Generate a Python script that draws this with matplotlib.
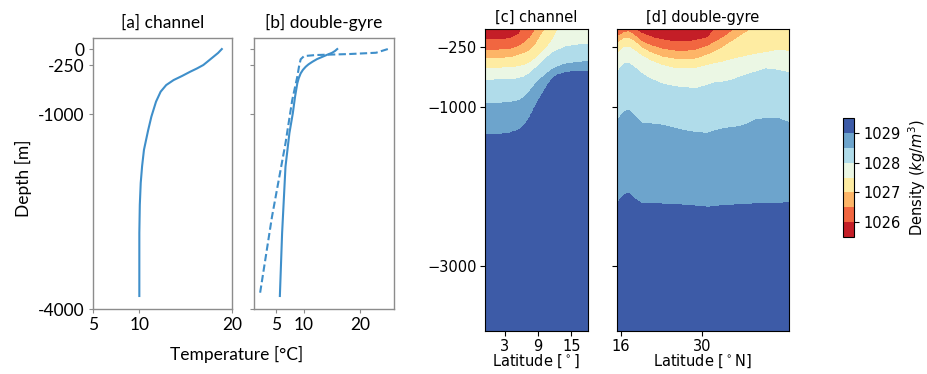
import numpy as np
import matplotlib
matplotlib.use("Agg")
import matplotlib.pyplot as plt

# ---------------- temperature profiles ----------------
# [a] channel: restoring temperature profile
depth_a = [0, -60, -130, -200, -246, -300, -348, -415, -477, -554, -656, -810, -1040, -1250,
           -1550, -1800, -2060, -2400, -2830, -3300, -3800]
temp_a = [18.9, 18.5, 17.9, 17.3, 16.9, 16.2, 15.5, 14.6, 13.7, 12.9, 12.3, 11.8, 11.3, 10.95,
          10.5, 10.3, 10.15, 10.05, 10.0, 10.0, 10.0]

# [b] double-gyre: model profile (solid) and reference profile (dashed)
depth_b = [0, -30, -57, -85, -118, -155, -195, -235, -272, -320, -374, -450, -528, -734,
           -990, -1292, -1810, -2830, -3800]
temp_b = [15.9, 15.5, 15.0, 14.2, 13.3, 12.3, 11.5, 10.8, 10.3, 9.8, 9.4, 9.05, 8.8, 8.4,
          8.0, 7.4, 6.7, 6.1, 5.7]
depth_b_ref = [0, -57, -77, -92, -108, -158, -272, -426, -785, -1450, -2580, -3800]
temp_b_ref = [24.9, 22.8, 18.0, 12.1, 10.0, 9.4, 9.1, 8.8, 7.9, 6.7, 4.3, 2.1]

# ---------------- density sections ----------------
rho_levels = [1026.0, 1026.5, 1027.0, 1027.5, 1028.0, 1028.5, 1029.0]
cbar_ticks = [1026, 1027, 1028, 1029]

# [c] channel: isopycnal depths (m) at each latitude (positive = above sea surface)
lat_c = [-0.6, 2, 4, 5.5, 6.5, 7.5, 8.5, 9.5, 10.5, 11.5, 12.5, 14, 16, 18]
c_1026 = [-165, -162, -148, -95, 40, 120, 200, 280, 360, 440, 520, 640, 800, 960]
c_1026_5 = [-288, -288, -278, -245, -200, -140, -40, 60, 140, 220, 300, 420, 580, 740]
c_1027 = [-392, -392, -385, -355, -330, -300, -225, -110, 0, 80, 160, 280, 440, 600]
c_1027_5 = [-517, -515, -508, -498, -480, -450, -400, -330, -266, -175, -40, 80, 240, 400]
c_1028 = [-664, -663, -657, -648, -625, -585, -520, -455, -390, -330, -295, -250, -228, -216]
c_1028_5 = [-957, -955, -945, -925, -880, -805, -720, -650, -590, -535, -500, -465, -445, -434]
c_1029 = [-1354, -1345, -1325, -1290, -1235, -1130, -990, -870, -750, -650, -600, -568, -556, -550]

# [d] double-gyre: isopycnal depths (m) at each latitude
lat_d = [15.3, 16.0, 16.6, 17.3, 18.2, 19.5, 21, 23, 25, 27, 29, 31, 32.2, 33.5,
         35, 36.5, 38, 39.5, 41, 43, 45]
d_1026 = [-58, -40, 10, 60, -20, -80, -125, -165, -182, -185, -172, -135, -30, 60,
          140, 220, 300, 380, 460, 560, 660]
d_1026_5 = [-125, -95, -70, -60, -100, -180, -230, -275, -300, -305, -290, -240, -190, -140,
            -65, 40, 120, 200, 280, 380, 480]
d_1027 = [-215, -170, -145, -140, -175, -260, -320, -375, -400, -410, -400, -350, -310, -260,
          -190, -120, -50, 40, 120, 220, 320]
d_1027_5 = [-340, -290, -255, -250, -290, -360, -420, -480, -515, -525, -515, -480, -460, -440,
            -410, -385, -360, -340, -320, -295, -305]
d_1028 = [-580, -500, -460, -455, -500, -580, -650, -710, -745, -760, -770, -730, -700, -690,
          -670, -630, -590, -560, -525, -540, -575]
d_1028_5 = [-1190, -1110, -1060, -1040, -1110, -1205, -1215, -1229, -1265, -1300, -1325, -1333,
            -1300, -1280, -1260, -1250, -1210, -1158, -1150, -1145, -1200]
d_1029 = [-2212, -2150, -2100, -2086, -2150, -2212, -2215, -2220, -2225, -2233, -2245, -2262,
          -2250, -2240, -2233, -2228, -2222, -2218, -2212, -2208, -2204]

Z_TOP, Z_BOT = -24, -3815


def density_section(lat_pts, iso_depths, lat_lo, lat_hi):
    """Build a (depth, latitude) density field whose isopycnals sit at the given depths."""
    lat = np.linspace(lat_lo, lat_hi, 400)
    z = np.linspace(Z_TOP, Z_BOT, 500)
    surf = np.array([np.interp(lat, lat_pts, d) for d in iso_depths])
    rr = np.concatenate(([1025.55], rho_levels, [1029.45]))
    rho = np.empty((z.size, lat.size))
    for j in range(lat.size):
        zz = np.concatenate(([3000.0], surf[:, j], [-6000.0]))
        rho[:, j] = np.interp(-z, -zz, rr)
    return lat, z, rho


W, H = 927, 374
fig = plt.figure(figsize=(W / 100, H / 100), dpi=100)


def add_axes_px(left, top, right, bottom):
    return fig.add_axes([left / W, 1 - bottom / H, (right - left) / W, (bottom - top) / H])


LINE = "#3f8fca"
GREY = "#8c8c8c"
FONT_L = ["Lato", "DejaVu Sans"]

# ---------- temperature panels ----------
ax_a = add_axes_px(93, 38, 232, 309)
ax_b = add_axes_px(254, 38, 394, 309)

ax_a.plot(temp_a, depth_a, color=LINE, lw=1.5)
ax_b.plot(temp_b, depth_b, color=LINE, lw=1.5)
ax_b.plot(temp_b_ref, depth_b_ref, color=LINE, lw=1.5, ls=(0, (3.5, 1.6)))

ax_a.set_xlim(5, 20)
ax_b.set_xlim(1.1, 26)
for ax in (ax_a, ax_b):
    ax.set_ylim(-4000, 170)
    ax.set_yticks([0, -250, -1000, -4000])
    ax.set_xticks([5, 10, 20])
    for s in ax.spines.values():
        s.set_color(GREY)
        s.set_linewidth(1.0)
    ax.tick_params(color=GREY, length=3, width=0.8, labelsize=12.5, pad=3)
    for lab in ax.get_xticklabels() + ax.get_yticklabels():
        lab.set_family(FONT_L)
ax_a.set_yticklabels(["0", "-250", "-1000", "-4000"])
ax_b.set_yticklabels([])
ax_a.set_title("[a] channel", fontsize=12.5, family=FONT_L, pad=7)
ax_b.set_title("[b] double-gyre", fontsize=12.5, family=FONT_L, pad=7)
fig.text(23 / W, 1 - 178 / H, "Depth [m]", rotation=90, ha="center", va="center",
         fontsize=12.5, family=FONT_L)
fig.text(237 / W, 1 - 354 / H, "Temperature [°C]", ha="center", va="center",
         fontsize=12.5, family=FONT_L)

# ---------- density panels ----------
ax_c = add_axes_px(485, 29, 588, 331)
ax_d = add_axes_px(617, 29, 789, 331)
cax = add_axes_px(843, 118, 854, 237)

levels = np.arange(1025.5, 1029.51, 0.5)

lat, z, rho = density_section(lat_c, [c_1026, c_1026_5, c_1027, c_1027_5, c_1028, c_1028_5, c_1029],
                              -0.6, 18.0)
cs = ax_c.contourf(lat, z, rho, levels=levels, cmap="RdYlBu")

lat, z, rho = density_section(lat_d, [d_1026, d_1026_5, d_1027, d_1027_5, d_1028, d_1028_5, d_1029],
                              15.3, 45.0)
ax_d.contourf(lat, z, rho, levels=levels, cmap="RdYlBu")

for ax in (ax_c, ax_d):
    ax.set_ylim(Z_BOT, Z_TOP)
    ax.set_yticks([-250, -1000, -3000])
    ax.tick_params(labelsize=10.5, length=3.5, width=0.8, pad=2.5)
ax_d.set_yticklabels([])
ax_c.set_xticks([3, 9, 15])
ax_d.set_xticks([16, 30])
ax_c.set_xlabel(r"Latitude [$^\circ$]", fontsize=10.5, labelpad=-1)
ax_d.set_xlabel(r"Latitude [$^\circ$N]", fontsize=10.5, labelpad=-1)
ax_c.set_title("[c] channel", fontsize=10.5, pad=5)
ax_d.set_title("[d] double-gyre", fontsize=10.5, pad=5)

cb = fig.colorbar(cs, cax=cax, ticks=cbar_ticks)
cb.ax.tick_params(labelsize=10.5, length=3.5, width=0.8)
cb.outline.set_linewidth(0.8)
cb.set_label(r"Density ($kg/m^3$)", fontsize=10.5, labelpad=4)

fig.savefig("out.png", dpi=100)
